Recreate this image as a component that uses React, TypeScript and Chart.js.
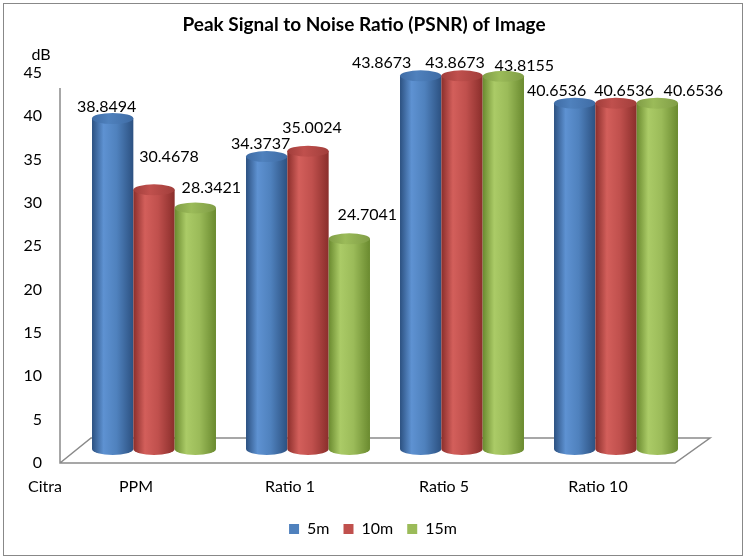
import { useEffect, useRef } from 'react'
import { Chart, registerables } from 'chart.js'

Chart.register(...registerables)

const categories = ['PPM', 'Ratio 1', 'Ratio 5', 'Ratio 10']
const seriesNames = ['5m', '10m', '15m']
const psnr5m = [38.8494, 34.3737, 43.8673, 40.6536]
const psnr10m = [30.4678, 35.0024, 43.8673, 40.6536]
const psnr15m = [28.3421, 24.7041, 43.8155, 40.6536]
const yMin = 0
const yMax = 45
const yStep = 5

// excel-ish 3d cylinder shading per series
const shades = [
  { base: '#4F81BD', light: '#5E92D2', dark: '#2C5181', cap: '#3F6CA5' },
  { base: '#C0504D', light: '#D35F5B', dark: '#8A2E2B', cap: '#A13E3B' },
  { base: '#9BBB59', light: '#ABCB67', dark: '#6A8A2F', cap: '#809D46' },
]

// nudges for value labels (excel places them oddly in 3d)
const labelNudge = [
  [[-6, -12], [-6, -13], [-39, -13], [-18, -12]],
  [[15, -33], [4, -23], [-7, -13], [8, -12]],
  [[16, -20], [18, -24], [21, -10], [36, -12]],
]

const font = 'Lato'

const cylinders = {
  id: 'cylinders',
  beforeDraw(chart: any) {
    const { ctx, width, height } = chart
    ctx.save()
    ctx.fillStyle = '#fff'
    ctx.fillRect(0, 0, width, height)
    ctx.strokeStyle = '#888'
    ctx.lineWidth = 1
    ctx.strokeRect(3.5, 3.5, width - 7, height - 7)
    ctx.fillStyle = '#000'
    ctx.font = `bold 19px ${font}`
    ctx.textAlign = 'center'
    ctx.textBaseline = 'middle'
    ctx.fillText('Peak Signal to Noise Ratio (PSNR) of Image', 364, 25)
    ctx.font = `16px ${font}`
    ctx.fillText('dB', 41, 55)
    ctx.fillText('Citra', 45, 487)
    ctx.restore()
  },
  beforeDatasetsDraw(chart: any) {
    // 3d floor and wall edge
    const { ctx, chartArea: a } = chart
    ctx.save()
    ctx.strokeStyle = '#8a8a8a'
    ctx.lineWidth = 1.5
    ctx.beginPath()
    ctx.moveTo(a.left - 17, a.top + 15)
    ctx.lineTo(a.left - 17, a.bottom)
    ctx.lineTo(a.right - 18, a.bottom)
    ctx.lineTo(a.right + 17, a.bottom - 25)
    ctx.lineTo(a.left + 14, a.bottom - 25)
    ctx.lineTo(a.left - 17, a.bottom)
    ctx.stroke()
    ctx.restore()
  },
  beforeDatasetDraw() {
    return false
  },
  afterDatasetsDraw(chart: any) {
    const { ctx } = chart
    ctx.save()
    chart.data.datasets.forEach((_: any, di: number) => {
      const s = shades[di]
      chart.getDatasetMeta(di).data.forEach((bar: any) => {
        const w = bar.width
        const l = bar.x - w / 2
        const r = bar.x + w / 2
        const g = ctx.createLinearGradient(l, 0, r, 0)
        g.addColorStop(0, s.dark)
        g.addColorStop(0.28, s.light)
        g.addColorStop(0.6, s.base)
        g.addColorStop(1, s.dark)
        ctx.fillStyle = g
        ctx.beginPath()
        ctx.moveTo(l, bar.y)
        ctx.lineTo(l, bar.base)
        ctx.ellipse(bar.x, bar.base, w / 2, 6, 0, Math.PI, 0, true)
        ctx.lineTo(r, bar.y)
        ctx.closePath()
        ctx.fill()
        const cg = ctx.createLinearGradient(l, 0, r, 0)
        cg.addColorStop(0, s.cap)
        cg.addColorStop(0.4, s.base)
        cg.addColorStop(1, s.cap)
        ctx.fillStyle = cg
        ctx.beginPath()
        ctx.ellipse(bar.x, bar.y, w / 2, 5.5, 0, 0, Math.PI * 2)
        ctx.fill()
      })
    })
    ctx.fillStyle = '#000'
    ctx.font = `16px ${font}`
    ctx.textAlign = 'center'
    ctx.textBaseline = 'middle'
    chart.data.datasets.forEach((ds: any, di: number) => {
      chart.getDatasetMeta(di).data.forEach((bar: any, i: number) => {
        const [dx, dy] = labelNudge[di][i]
        ctx.fillText(ds.data[i].toFixed(4), bar.x + dx, bar.y + dy)
      })
    })
    ctx.restore()
  },
}

export default function App() {
  const canvasRef = useRef<HTMLCanvasElement>(null)

  useEffect(() => {
    if (!canvasRef.current) return
    document.body.style.margin = '0'
    Chart.defaults.font.family = font
    Chart.defaults.color = '#000'

    const values = [psnr5m, psnr10m, psnr15m]
    const chart = new Chart(canvasRef.current, {
      type: 'bar',
      data: {
        labels: categories,
        datasets: seriesNames.map((name, i) => ({
          label: name,
          data: values[i],
          backgroundColor: shades[i].base,
          borderWidth: 0,
          yAxisID: 'yb',
          categoryPercentage: 0.805,
          barPercentage: 1,
        })),
      },
      options: {
        animation: false,
        responsive: true,
        maintainAspectRatio: false,
        layout: { padding: { left: 0, right: 0, top: 73, bottom: 12 } },
        plugins: {
          title: { display: false },
          tooltip: { enabled: false },
          legend: {
            position: 'bottom',
            labels: { boxWidth: 10, boxHeight: 10, padding: 14, font: { size: 16 } },
          },
        },
        scales: {
          x: {
            grid: { display: false, drawTicks: false },
            border: { display: false },
            ticks: { padding: 14, labelOffset: -18, font: { size: 16 } },
            afterFit: (s: any) => { s.height = 44 },
          },
          y: {
            min: yMin,
            max: yMax,
            grid: { display: false, drawTicks: false },
            border: { display: false },
            ticks: { stepSize: yStep, padding: 35, font: { size: 16 } },
            afterFit: (s: any) => { s.width = 77 },
          },
          // bars sit on a slightly shifted scale, like excel's 3d projection
          yb: {
            position: 'right',
            min: -1.65,
            max: 44.2,
            grid: { display: false, drawTicks: false },
            border: { display: false },
            ticks: { display: false },
            afterFit: (s: any) => { s.width = 53 },
          },
        },
      },
      plugins: [cylinders],
    })

    return () => { chart.destroy() }
  }, [])

  return (
    <div style={{ position: 'relative', width: '746px', height: '559px' }}>
      <canvas ref={canvasRef} />
    </div>
  )
}
